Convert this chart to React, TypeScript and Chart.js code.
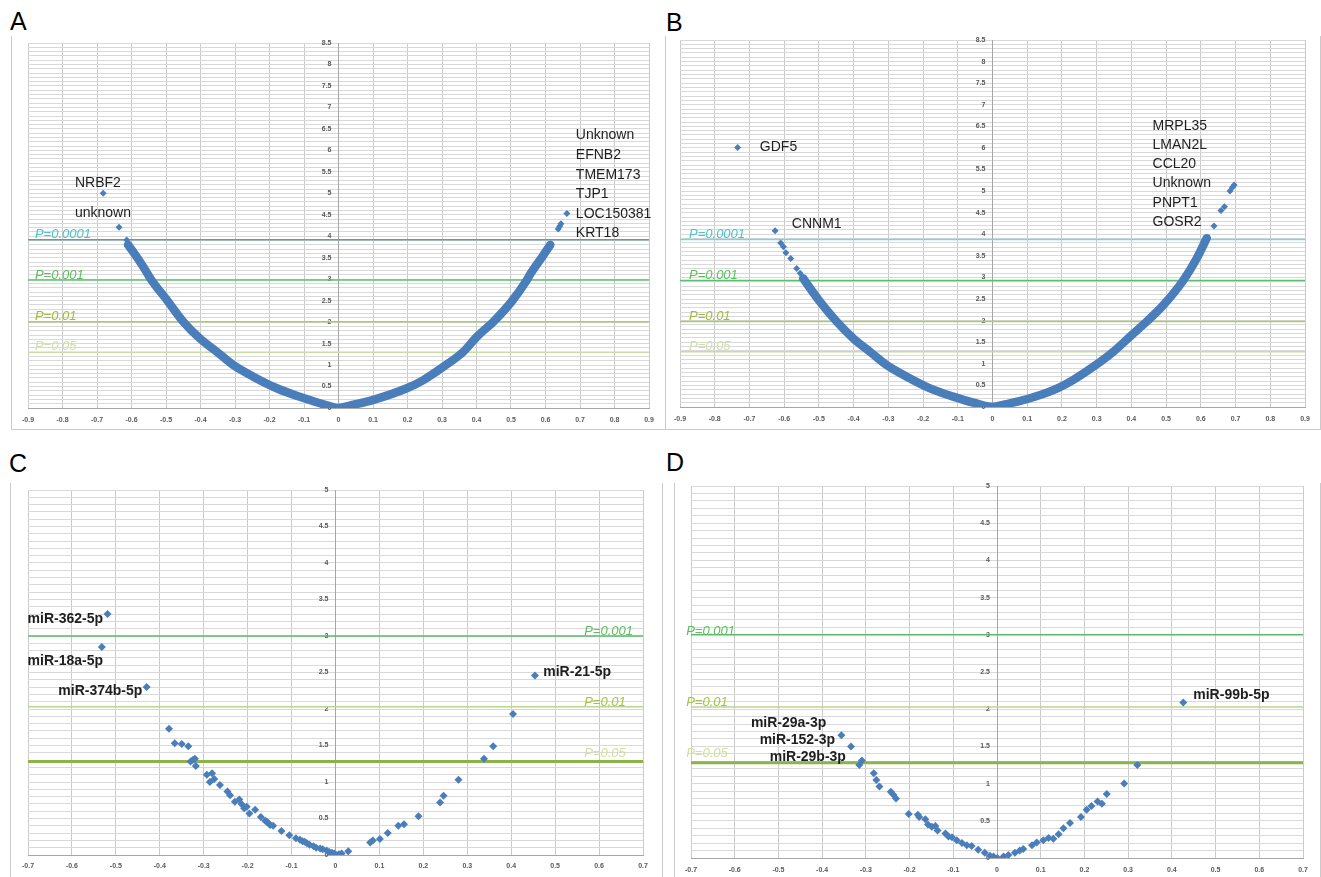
import React, { useEffect, useRef } from 'react';
import { Chart, registerables } from 'chart.js';

Chart.register(...registerables);

type Pt = [number, number];

// ---------- Panel A (mRNA, left/right of 0) ----------
const A_BAND: Pt[] = [
  [-0.61, 3.8], [-0.585, 3.52], [-0.566, 3.29], [-0.542, 2.98], [-0.498, 2.52], [-0.45, 2.01],
  [-0.402, 1.62], [-0.353, 1.31], [-0.305, 1.0], [-0.247, 0.73], [-0.179, 0.46], [-0.112, 0.26],
  [-0.054, 0.11], [-0.015, 0.02], [0, 0], [0.035, 0.06], [0.101, 0.19], [0.198, 0.46],
  [0.246, 0.65], [0.304, 0.96], [0.362, 1.31], [0.401, 1.66], [0.449, 2.01], [0.502, 2.48],
  [0.546, 2.98], [0.556, 3.12], [0.594, 3.56], [0.604, 3.68], [0.614, 3.8],
];
const A_POINTS: Pt[] = [
  [-0.682, 5.0], [-0.636, 4.21], [-0.614, 3.91],
  [0.637, 4.17], [0.641, 4.23], [0.645, 4.29], [0.662, 4.53],
];
const A_THRESH = [3.92, 2.98, 2.01, 1.3];

// ---------- Panel B ----------
const B_BAND: Pt[] = [
  [-0.545, 2.98], [-0.535, 2.86], [-0.497, 2.44], [-0.449, 1.98], [-0.401, 1.59], [-0.353, 1.28],
  [-0.305, 0.97], [-0.247, 0.7], [-0.18, 0.43], [-0.113, 0.24], [-0.055, 0.1], [0, 0],
  [0.035, 0.06], [0.098, 0.18], [0.175, 0.39], [0.233, 0.63], [0.29, 0.93], [0.348, 1.28],
  [0.396, 1.63], [0.444, 1.98], [0.492, 2.36], [0.55, 2.94], [0.588, 3.44], [0.617, 3.91],
];
const B_POINTS: Pt[] = [
  [-0.734, 6.01], [-0.626, 4.08], [-0.61, 3.8], [-0.602, 3.71], [-0.595, 3.57], [-0.581, 3.44],
  [-0.564, 3.21], [-0.554, 3.1],
  [0.638, 4.19], [0.658, 4.55], [0.668, 4.64], [0.684, 5.0], [0.691, 5.09], [0.696, 5.14],
];
const B_THRESH = [3.88, 2.93, 1.98, 1.28];

// ---------- Panel C (miRNA) ----------
const C_POINTS: Pt[] = [
  [-0.519, 3.3], [-0.532, 2.85], [-0.43, 2.3], [-0.379, 1.73], [-0.366, 1.53], [-0.35, 1.52],
  [-0.335, 1.49], [-0.325, 1.3], [-0.32, 1.32], [-0.318, 1.22], [-0.33, 1.28], [-0.293, 1.1],
  [-0.281, 1.12], [-0.286, 1.0], [-0.276, 1.04], [-0.263, 0.96], [-0.246, 0.87], [-0.24, 0.82],
  [-0.229, 0.73], [-0.219, 0.76], [-0.214, 0.7], [-0.208, 0.64], [-0.202, 0.66], [-0.196, 0.57],
  [-0.183, 0.62], [-0.17, 0.52], [-0.16, 0.47], [-0.157, 0.46], [-0.153, 0.44], [-0.149, 0.41],
  [-0.142, 0.4], [-0.123, 0.33], [-0.105, 0.27], [-0.09, 0.23], [-0.081, 0.21], [-0.075, 0.19],
  [-0.07, 0.18], [-0.065, 0.16], [-0.059, 0.14], [-0.05, 0.12], [-0.044, 0.1], [-0.035, 0.09],
  [-0.029, 0.08], [-0.02, 0.06], [-0.014, 0.04], [-0.008, 0.03], [-0.003, 0.02], [0.003, 0.0],
  [0.008, 0.01], [0.014, 0.02], [0.029, 0.05], [0.079, 0.17], [0.085, 0.2], [0.101, 0.22],
  [0.119, 0.3], [0.143, 0.4], [0.156, 0.42], [0.189, 0.53], [0.238, 0.72], [0.246, 0.81],
  [0.28, 1.03], [0.338, 1.32], [0.359, 1.49], [0.404, 1.93], [0.454, 2.46],
];
const C_THRESH = [3.0, 2.03, 1.28];

// ---------- Panel D ----------
const D_POINTS: Pt[] = [
  [-0.356, 1.65], [-0.334, 1.5], [-0.315, 1.25], [-0.309, 1.31], [-0.282, 1.14], [-0.276, 1.05],
  [-0.269, 0.96], [-0.243, 0.89], [-0.237, 0.85], [-0.231, 0.8], [-0.202, 0.59], [-0.181, 0.58],
  [-0.178, 0.55], [-0.164, 0.52], [-0.158, 0.45], [-0.149, 0.42], [-0.141, 0.43], [-0.136, 0.37],
  [-0.118, 0.33], [-0.111, 0.29], [-0.103, 0.28], [-0.092, 0.24], [-0.08, 0.2], [-0.069, 0.17],
  [-0.058, 0.16], [-0.043, 0.11], [-0.028, 0.07], [-0.016, 0.03], [-0.008, 0.02], [0.001, 0.0],
  [0.015, 0.02], [0.026, 0.04], [0.041, 0.07], [0.052, 0.1], [0.06, 0.12], [0.08, 0.17],
  [0.091, 0.21], [0.106, 0.24], [0.118, 0.27], [0.129, 0.26], [0.141, 0.32], [0.152, 0.4],
  [0.167, 0.47], [0.192, 0.55], [0.205, 0.65], [0.216, 0.7], [0.23, 0.76], [0.24, 0.73],
  [0.251, 0.86], [0.291, 1.0], [0.321, 1.25], [0.426, 2.09],
];
const D_THRESH = [3.0, 2.03, 1.28];

// ---------- Axis ranges & tick labels ----------
const AB_X_RANGE: Pt = [-0.9, 0.9];
const AB_Y_RANGE: Pt = [0, 8.5];
const CD_X_RANGE: Pt = [-0.7, 0.7];
const CD_Y_RANGE: Pt = [0, 5];
const TICK_STEP = 0.1;
const Y_LABEL_EVERY = 5; // label every 0.5

// ---------- Text labels ----------
const P_LABELS_AB = ['P=0.0001', 'P=0.001', 'P=0.01', 'P=0.05'];
const P_LABELS_CD = ['P=0.001', 'P=0.01', 'P=0.05'];
const A_GENES = ['NRBF2', 'unknown', 'Unknown', 'EFNB2', 'TMEM173', 'TJP1', 'LOC150381', 'KRT18'];
const A_GENE_POS: Pt[] = [
  [-0.764, 5.24], [-0.764, 4.54], [0.688, 6.36], [0.688, 5.9], [0.688, 5.43], [0.688, 4.99],
  [0.688, 4.52], [0.688, 4.08],
];
const A_P_POS: Pt[] = [[-0.88, 4.04], [-0.88, 3.08], [-0.88, 2.13], [-0.88, 1.44]];
const B_GENES = ['GDF5', 'CNNM1', 'MRPL35', 'LMAN2L', 'CCL20', 'Unknown', 'PNPT1', 'GOSR2'];
const B_GENE_POS: Pt[] = [
  [-0.67, 6.01], [-0.578, 4.24], [0.461, 6.51], [0.461, 6.07], [0.461, 5.62], [0.461, 5.18],
  [0.461, 4.72], [0.461, 4.27],
];
const B_P_POS: Pt[] = [[-0.874, 4.0], [-0.874, 3.05], [-0.874, 2.1], [-0.874, 1.4]];
const C_MIRS = ['miR-362-5p', 'miR-18a-5p', 'miR-374b-5p', 'miR-21-5p'];
const C_MIR_POS: Pt[] = [[-0.701, 3.23], [-0.701, 2.66], [-0.631, 2.24], [0.473, 2.5]];
const C_P_POS: Pt[] = [[0.566, 3.06], [0.566, 2.09], [0.566, 1.39]];
const D_MIRS = ['miR-29a-3p', 'miR-152-3p', 'miR-29b-3p', 'miR-99b-5p'];
const D_MIR_POS: Pt[] = [[-0.563, 1.81], [-0.543, 1.59], [-0.52, 1.35], [0.449, 2.19]];
const D_P_POS: Pt[] = [[-0.711, 3.04], [-0.711, 2.09], [-0.711, 1.4]];

// ---------- Styles ----------
const FONT = "'Liberation Sans', Arial, sans-serif";
const BLUE = '#4a7ebb';
const GENE_FONT = `14px ${FONT}`;
const MIR_FONT = `bold 14px ${FONT}`;
const P_FONT = `italic 13px ${FONT}`;
const P_TEXT_AB = ['#4cc3cc', '#5cbf5c', '#9cbb3e', '#cfe0a6'];
const P_LINE_A = ['#6a9a9c', '#5cc072', '#a9cc6a', '#c7dea0'];
const P_LINE_B = ['#80d4d8', '#5cc072', '#a9cc6a', '#c7dea0'];
const P_TEXT_CD = ['#5cbf5c', '#a3c24a', '#cfe0a0'];
const P_LINE_CD = ['#5cb96c', '#b8d88c', '#8ab34a'];
const P_WIDTH_AB = [1.5, 1.5, 1.5, 1.5];
const P_WIDTH_CD = [1.5, 1.5, 3];

interface LabelItem { text: string; x: number; y: number; font: string; color: string }
interface Panel {
  box: { left: number; top: number; width: number; height: number };
  padding: { left: number; right: number; top: number; bottom: number };
  xAxisHeight: number;
  labelPad: number;
  xRange: Pt;
  yRange: Pt;
  band?: Pt[];
  points: Pt[];
  radius: number;
  thresholds: { y: number; color: string; width: number }[];
  labels: LabelItem[];
}

function fmt(v: number): string {
  const r = Math.round(v * 10) / 10;
  return (r === 0 ? 0 : r).toString();
}

function labelsFrom(texts: string[], pos: Pt[], font: string, colors: string | string[]): LabelItem[] {
  return texts.map((t, i) => ({
    text: t, x: pos[i][0], y: pos[i][1], font,
    color: Array.isArray(colors) ? colors[i] : colors,
  }));
}

const textPlugin = {
  id: 'panelText',
  afterDatasetsDraw(chart: any, _args: any, opts: any) {
    const items: LabelItem[] = (opts && opts.items) || [];
    const { ctx } = chart;
    const xs = chart.scales.x;
    const ys = chart.scales.y;
    ctx.save();
    ctx.textAlign = 'left';
    ctx.textBaseline = 'middle';
    for (const it of items) {
      ctx.font = it.font;
      ctx.fillStyle = it.color;
      ctx.fillText(it.text, xs.getPixelForValue(it.x), ys.getPixelForValue(it.y));
    }
    ctx.restore();
  },
};

const PANELS: Panel[] = [
  {
    box: { left: 11, top: 30, width: 654, height: 400 },
    padding: { left: 17, right: 16, top: 13, bottom: 0 },
    xAxisHeight: 22, labelPad: 8,
    xRange: AB_X_RANGE, yRange: AB_Y_RANGE,
    band: A_BAND, points: A_POINTS, radius: 3.5,
    thresholds: A_THRESH.map((y, i) => ({ y, color: P_LINE_A[i], width: P_WIDTH_AB[i] })),
    labels: [
      ...labelsFrom(A_GENES, A_GENE_POS, GENE_FONT, '#1e1e1e'),
      ...labelsFrom(P_LABELS_AB, A_P_POS, P_FONT, P_TEXT_AB),
    ],
  },
  {
    box: { left: 665, top: 30, width: 655, height: 400 },
    padding: { left: 15, right: 15, top: 10, bottom: 0 },
    xAxisHeight: 23, labelPad: 8,
    xRange: AB_X_RANGE, yRange: AB_Y_RANGE,
    band: B_BAND, points: B_POINTS, radius: 3.5,
    thresholds: B_THRESH.map((y, i) => ({ y, color: P_LINE_B[i], width: P_WIDTH_AB[i] })),
    labels: [
      ...labelsFrom(B_GENES, B_GENE_POS, GENE_FONT, '#1e1e1e'),
      ...labelsFrom(P_LABELS_AB, B_P_POS, P_FONT, P_TEXT_AB),
    ],
  },
  {
    box: { left: 10, top: 478, width: 652, height: 399 },
    padding: { left: 18, right: 19, top: 12, bottom: 0 },
    xAxisHeight: 22, labelPad: 7,
    xRange: CD_X_RANGE, yRange: CD_Y_RANGE,
    points: C_POINTS, radius: 4,
    thresholds: C_THRESH.map((y, i) => ({ y, color: P_LINE_CD[i], width: P_WIDTH_CD[i] })),
    labels: [
      ...labelsFrom(C_MIRS, C_MIR_POS, MIR_FONT, '#1e1e1e'),
      ...labelsFrom(P_LABELS_CD, C_P_POS, P_FONT, P_TEXT_CD),
    ],
  },
  {
    box: { left: 674, top: 476, width: 646, height: 401 },
    padding: { left: 17, right: 17, top: 10, bottom: 0 },
    xAxisHeight: 19, labelPad: 8,
    xRange: CD_X_RANGE, yRange: CD_Y_RANGE,
    points: D_POINTS, radius: 4,
    thresholds: D_THRESH.map((y, i) => ({ y, color: P_LINE_CD[i], width: P_WIDTH_CD[i] })),
    labels: [
      ...labelsFrom(D_MIRS, D_MIR_POS, MIR_FONT, '#1e1e1e'),
      ...labelsFrom(P_LABELS_CD, D_P_POS, P_FONT, P_TEXT_CD),
    ],
  },
];

function buildChart(canvas: HTMLCanvasElement, p: Panel): Chart {
  const datasets: any[] = [
    {
      data: p.points.map(([x, y]) => ({ x, y })),
      showLine: false,
      pointStyle: 'rectRot',
      pointRadius: p.radius,
      pointBackgroundColor: BLUE,
      pointBorderWidth: 0,
      pointBorderColor: BLUE,
    },
  ];
  if (p.band) {
    datasets.push({
      data: p.band.map(([x, y]) => ({ x, y })),
      showLine: true,
      borderColor: BLUE,
      borderWidth: 8.5,
      borderCapStyle: 'round',
      borderJoinStyle: 'round',
      cubicInterpolationMode: 'monotone',
      pointRadius: 0,
    });
  }
  for (const t of p.thresholds) {
    datasets.push({
      data: [{ x: p.xRange[0], y: t.y }, { x: p.xRange[1], y: t.y }],
      showLine: true,
      borderColor: t.color,
      borderWidth: t.width,
      pointRadius: 0,
    });
  }
  const tickFont = { family: FONT, size: 7, weight: 'bold' as const };
  return new Chart(canvas, {
    type: 'scatter',
    data: { datasets },
    options: {
      animation: false,
      responsive: false,
      maintainAspectRatio: false,
      events: [],
      layout: { padding: p.padding },
      plugins: {
        legend: { display: false },
        tooltip: { enabled: false },
        // @ts-ignore
        panelText: { items: p.labels },
      },
      scales: {
        x: {
          type: 'linear',
          position: 'bottom',
          min: p.xRange[0],
          max: p.xRange[1],
          afterFit: (s: any) => { s.height = p.xAxisHeight; },
          grid: { color: '#cbcbcb', lineWidth: 1, drawTicks: false },
          border: { color: '#a6a6a6', width: 1 },
          ticks: {
            stepSize: TICK_STEP,
            autoSkip: false,
            maxRotation: 0,
            padding: p.labelPad,
            color: '#595959',
            font: tickFont,
            callback: (v: any) => fmt(Number(v)),
          },
        },
        y: {
          type: 'linear',
          position: { x: 0 },
          min: p.yRange[0],
          max: p.yRange[1],
          grid: { color: '#d9d9d9', lineWidth: 1, drawTicks: false },
          border: { color: '#a6a6a6', width: 1 },
          ticks: {
            stepSize: TICK_STEP,
            autoSkip: false,
            color: '#595959',
            font: tickFont,
            callback: (v: any) =>
              Math.round(Number(v) * 10) % Y_LABEL_EVERY === 0 ? fmt(Number(v)) + '\u2003' : '',
          },
        },
      },
    },
    plugins: [textPlugin as any],
  });
}

function PanelCanvas({ panel }: { panel: Panel }) {
  const ref = useRef<HTMLCanvasElement | null>(null);
  useEffect(() => {
    if (!ref.current) return;
    const chart = buildChart(ref.current, panel);
    return () => chart.destroy();
  }, [panel]);
  const b = panel.box;
  return (
    <canvas
      ref={ref}
      width={b.width}
      height={b.height}
      style={{ position: 'absolute', left: b.left, top: b.top, width: b.width, height: b.height }}
    />
  );
}

const FRAME = '1px solid #cacaca';
const LETTERS = [
  { t: 'A', left: 10, top: 9 },
  { t: 'B', left: 666, top: 10 },
  { t: 'C', left: 9, top: 451 },
  { t: 'D', left: 666, top: 450 },
];

export default function App() {
  return (
    <div
      style={{
        position: 'absolute', left: 0, top: 0, width: 1321, height: 877,
        overflow: 'hidden', background: '#ffffff',
      }}
    >
      <div style={{ position: 'absolute', left: 11, top: 36, width: 654, height: 394, borderLeft: FRAME, borderBottom: FRAME, boxSizing: 'border-box' }} />
      <div style={{ position: 'absolute', left: 665, top: 36, width: 656, height: 394, borderLeft: FRAME, borderRight: FRAME, borderBottom: FRAME, boxSizing: 'border-box' }} />
      <div style={{ position: 'absolute', left: 10, top: 483, width: 653, height: 394, borderLeft: FRAME, borderRight: FRAME, boxSizing: 'border-box' }} />
      <div style={{ position: 'absolute', left: 674, top: 483, width: 647, height: 394, borderLeft: FRAME, borderRight: FRAME, boxSizing: 'border-box' }} />
      {LETTERS.map((l) => (
        <div
          key={l.t}
          style={{
            position: 'absolute', left: l.left, top: l.top, fontFamily: FONT,
            fontSize: 25, lineHeight: '25px', color: '#000',
          }}
        >
          {l.t}
        </div>
      ))}
      {PANELS.map((p, i) => (
        <PanelCanvas key={i} panel={p} />
      ))}
    </div>
  );
}
